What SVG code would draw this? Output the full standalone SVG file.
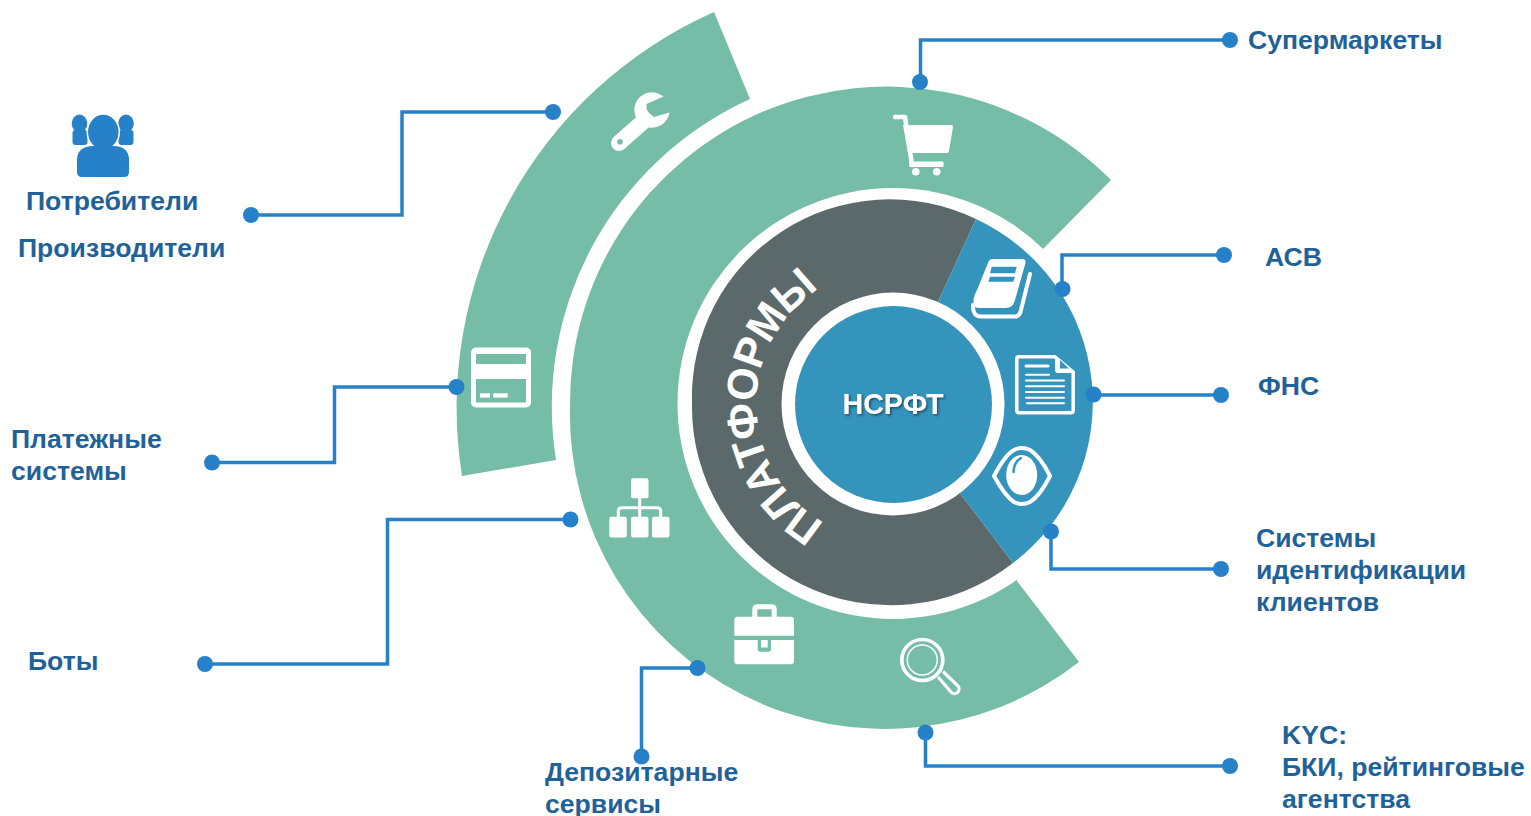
<svg xmlns="http://www.w3.org/2000/svg" xmlns:xlink="http://www.w3.org/1999/xlink" width="1531" height="816" viewBox="0 0 1531 816">
<style>
text{font-family:"Liberation Sans",Arial,sans-serif}
.lb{font-weight:700;font-size:26.600px;fill:#1f6299}
.c{fill:none;stroke:#2781c9;stroke-width:3.500}
.d{fill:#2781c9}
.g{fill:#76bda7}
.b{fill:#3594bc}
.w{fill:#fff}
.sw{fill:none;stroke:#fff}
</style>
<defs>
<filter id="sh" x="-10%" y="-30%" width="120%" height="160%"><feDropShadow dx="1.500" dy="1.500" stdDeviation="1" flood-color="#1a3d50" flood-opacity="0.8"/></filter>
<path id="arcp" d="M825,523 A137,137 0 1 1 1029,385" fill="none"/>
</defs>
<g id="ring-outer-green"><path class="g" d="M714,12 L750,99 A338,338 0 0 0 556,460 L462,476 A433,433 0 0 1 714,12 Z"/></g>
<g id="ring-platforms-green"><path class="g" d="M1111,180 A316.500,316.500 0 0 0 570,407.500 A315,315 0 0 0 1079,662 L1017,581 L1043,249 Z"/></g>
<circle class="w" cx="893" cy="403.500" r="215.500"/>
<g id="ring-inner">
<path fill="#5b696a" d="M976,219 A198,198 0 0 0 692,403 A198.500,198.500 0 0 0 1013,563 L950,480 L925,330 Z"/>
<path class="b" d="M976,219 A202,202 0 0 1 1013,563 L950,480 L925,330 Z"/>
<text font-size="43" font-weight="700" fill="#fff"><textPath xlink:href="#arcp" href="#arcp" startOffset="0" textLength="281" lengthAdjust="spacing">ПЛАТФОРМЫ</textPath></text>
</g>
<g id="hub">
<circle class="w" cx="893" cy="404" r="111.500"/>
<circle class="b" cx="893.500" cy="404.500" r="98.500"/>
<text x="893" y="413.500" font-size="28.700" font-weight="700" fill="#fff" text-anchor="middle" filter="url(#sh)">НСРФТ</text>
</g>
<g id="connectors">
<path class="c" d="M1230,40H920.500V82"/>
<path class="c" d="M1224,255H1062V289"/>
<path class="c" d="M1221,395H1093"/>
<path class="c" d="M1221,569H1051V531"/>
<path class="c" d="M1230,766H925.500V732"/>
<path class="c" d="M697,668H641.500V756"/>
<path class="c" d="M205,664H387.500V519.500H570"/>
<path class="c" d="M212,462.500H334.500V387H456"/>
<path class="c" d="M251,215H402V112H553"/>
<g class="d">
<circle cx="1230" cy="40" r="8"/><circle cx="920" cy="82" r="8"/>
<circle cx="1224" cy="255" r="8"/><circle cx="1062.500" cy="289" r="8"/>
<circle cx="1221" cy="395" r="8"/><circle cx="1093.500" cy="394.500" r="8"/>
<circle cx="1221" cy="569" r="8"/><circle cx="1051" cy="531.500" r="8"/>
<circle cx="1230" cy="766" r="8"/><circle cx="925.500" cy="732.500" r="8"/>
<circle cx="697.500" cy="668" r="8"/><circle cx="641.500" cy="756.500" r="8"/>
<circle cx="205" cy="664" r="8"/><circle cx="570.500" cy="519.500" r="8"/>
<circle cx="212" cy="462.500" r="8"/><circle cx="456.500" cy="387" r="8"/>
<circle cx="251" cy="215" r="8"/><circle cx="553" cy="112" r="8"/>
</g>
</g>
<g id="node-consumers">
<g class="d">
<ellipse cx="79.500" cy="123.500" rx="7.800" ry="9"/><rect x="72.500" y="130" width="15" height="15" rx="3"/>
<ellipse cx="126" cy="123.500" rx="7.800" ry="9"/><rect x="118.500" y="130" width="15" height="15" rx="3"/>
<ellipse cx="103.300" cy="132" rx="16" ry="18" stroke="#fff" stroke-width="1.500"/>
<path d="M77,160 Q77,147 92,146 H115 Q129,147 129,160 V172 Q129,177 124,177 H82 Q77,177 77,172 Z"/>
</g>
<text class="lb" x="26" y="210">Потребители</text>
<text class="lb" x="18" y="257">Производители</text>
</g>
<g id="node-wrench">
<path class="w" d="M663.500,96.500 L646.500,104 Q645,112 654,117 L669.500,112.500 A17.700,17.700 0 1 1 663.500,96.500 Z"/>
<path class="sw" stroke-width="16" stroke-linecap="round" d="M619,143 L645,120"/>
<circle class="g" cx="620" cy="141.700" r="2.800"/>
</g>
<g id="node-card">
<rect class="w" x="471" y="347.500" width="60" height="60" rx="5"/>
<rect class="g" x="476" y="354" width="50" height="10"/>
<rect class="g" x="476" y="379" width="50" height="23.500"/>
<rect class="w" x="480" y="393.300" width="10" height="4.300"/>
<rect class="w" x="493.300" y="393.300" width="14.400" height="4.300"/>
<text class="lb" x="11" y="448">Платежные</text>
<text class="lb" x="11" y="480">системы</text>
</g>
<g id="node-bots">
<rect class="w" x="631" y="478.300" width="17.500" height="20" rx="2"/>
<path class="sw" stroke-width="3" d="M639.700,498V517M618.300,517V511Q618.300,507.700 622,507.700H657Q660.700,507.700 660.700,511V517"/>
<rect class="w" x="609.300" y="516.700" width="17.500" height="20.700" rx="2"/>
<rect class="w" x="631" y="516.700" width="17.500" height="20.700" rx="2"/>
<rect class="w" x="652" y="516.700" width="17.500" height="20.700" rx="2"/>
<text class="lb" x="28" y="670">Боты</text>
</g>
<g id="node-depository">
<path class="sw" stroke-width="5" d="M754.800,617V609.500Q754.800,606.800 757.500,606.800H771.500Q774.200,606.800 774.200,609.500V617"/>
<path class="w" d="M734.300,635.700V620Q734.300,616.700 737.600,616.700H790.700Q794,616.700 794,620V635.700Z"/>
<path class="w" d="M734.300,640H794V661Q794,664.300 790.700,664.300H737.600Q734.300,664.300 734.300,661Z"/>
<path class="g" d="M757.700,640H771V649Q771,651.700 768.300,651.700H760.400Q757.700,651.700 757.700,649Z"/>
<rect class="w" x="761" y="640" width="6.700" height="7.500"/>
<text class="lb" x="545" y="781">Депозитарные</text>
<text class="lb" x="545" y="813">сервисы</text>
</g>
<g id="node-kyc">
<circle class="sw" cx="922.300" cy="660" r="20.500" stroke-width="3.700"/>
<circle class="sw" cx="922.300" cy="660" r="15" stroke-width="1.500"/>
<path class="sw" stroke-width="3.200" d="M938,677 L951,692 A4.500,4.500 0 0 0 958,686 L943,671.500"/>
<text class="lb" x="1282" y="744">KYC:</text>
<text class="lb" x="1282" y="776">БКИ, рейтинговые</text>
<text class="lb" x="1282" y="808">агентства</text>
</g>
<g id="node-identification">
<path class="sw" stroke-width="4" d="M994,476 Q1005,455 1014,450 Q1021.500,446 1030,450 Q1040,456 1050,476 Q1040,496 1030,502 Q1021.500,506 1014,502 Q1005,496 994,476 Z"/>
<ellipse class="w" cx="1021.700" cy="475" rx="15.500" ry="20"/>
<path fill="none" stroke="#3594bc" stroke-width="2.500" stroke-linecap="round" d="M1013.500,472 Q1014,462 1021,458"/>
<text class="lb" x="1256" y="547">Системы</text>
<text class="lb" x="1256" y="579">идентификации</text>
<text class="lb" x="1256" y="611">клиентов</text>
</g>
<g id="node-fns">
<path class="sw" stroke-width="3.500" stroke-linejoin="round" d="M1055,356.800H1019Q1016.800,356.800 1016.800,359V410.500Q1016.800,412.700 1019,412.700H1071Q1073.200,412.700 1073.200,410.500V372Z"/>
<path class="w" d="M1055,356 L1075,373 H1058 Q1055,373 1055,370 Z"/>
<path class="b" d="M1060,360 L1069,368.500 H1060 Z"/>
<path class="sw" stroke-width="3" stroke-linecap="round" d="M1026,366H1048"/>
<path class="sw" stroke-width="2" stroke-linecap="round" d="M1026,374.700H1049M1026,380.500H1064M1026,386.300H1064M1026,392H1064M1026,397.700H1064M1027,403.300H1064"/>
<text class="lb" x="1258" y="395">ФНС</text>
</g>
<g id="node-asv">
<path class="w" d="M988,263 Q989,259 993,259 H1022 Q1026,259 1025.500,263 L1015,300 Q1013,308 1006,308 H979 Q974,308 973.500,303 Q973,297 977,290 Z"/>
<path class="sw" stroke-width="4" stroke-linecap="round" d="M973,305 Q972.500,316.500 981,316.500 H1015 Q1019,316.500 1020.500,312 L1030,274"/>
<path class="b" d="M991.700,266.700 H1016.700 L1015,273.300 H990 Z M990,276.700 H1015 L1013.300,281.700 H988.300 Z"/>
<text class="lb" x="1265" y="266">АСВ</text>
</g>
<g id="node-supermarkets">
<path class="sw" stroke-width="4.500" stroke-linecap="round" stroke-linejoin="round" d="M895,117H905L912,165"/>
<path class="w" d="M903,125H951Q953,125 953,127L949,151Q949,153 947,153H908Z"/>
<rect class="w" x="909" y="161.500" width="34.500" height="5.500" rx="1"/>
<circle class="w" cx="915.700" cy="171.700" r="3.800"/>
<circle class="w" cx="936.700" cy="171.700" r="3.800"/>
<text class="lb" x="1248" y="49">Супермаркеты</text>
</g>
</svg>
